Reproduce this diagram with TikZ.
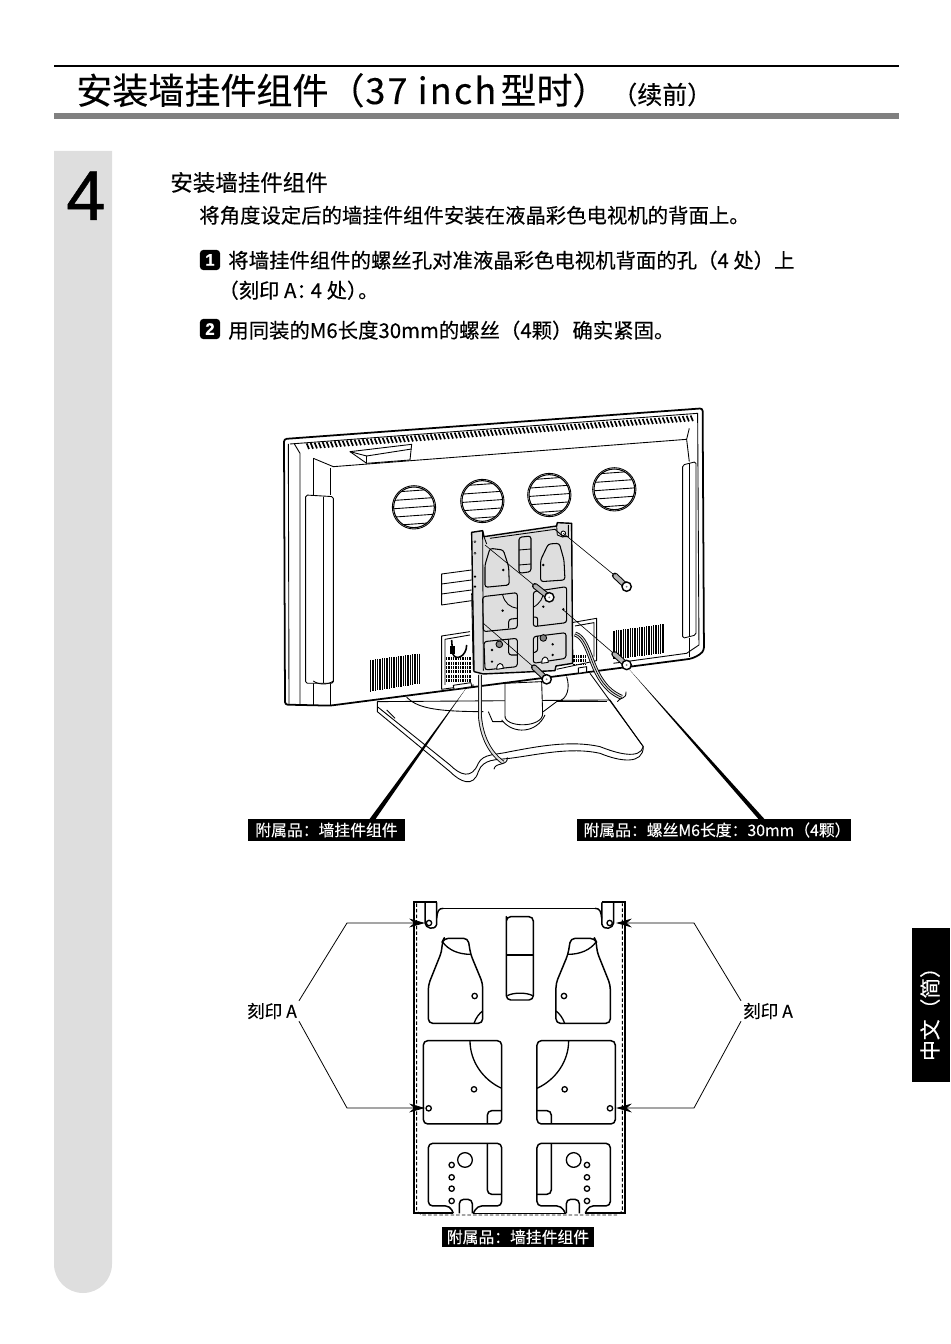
\documentclass[tikz,border=0pt]{standalone}
\usepackage{fontspec}
\setmainfont[FakeBold=0.25]{Noto Sans CJK SC}
\newfontfamily\digitfont[FakeBold=0.7]{Liberation Sans}
\usetikzlibrary{positioning,calc,arrows.meta}
\definecolor{sidegray}{HTML}{DEDEDE}
\definecolor{rulegray}{HTML}{808080}
\definecolor{platefill}{HTML}{DEDEDE}
\tikzset{
  bodytext/.style={anchor=base west,inner sep=0pt,font=\fontsize{11.6pt}{14pt}\selectfont},
  headtext/.style={anchor=base west,inner sep=0pt,font=\fontsize{20.5pt}{24pt}\selectfont},
  numbox/.style={fill=black,text=white,rounded corners=2pt,inner sep=0pt,minimum size=11.5pt,
    font=\digitfont\bfseries\fontsize{9.5pt}{10pt}\selectfont},
  tagbox/.style={fill=black,text=white,inner sep=0pt,minimum height=12pt,
    font=\fontsize{9pt}{10pt}\selectfont},
  marklabel/.style={inner sep=1pt,font=\fontsize{10pt}{11pt}\selectfont},
  tvline/.style={line width=0.5pt,line join=round},
  tvedge/.style={line width=1pt,line join=round,rounded corners=1.5pt},
  plateline/.style={line width=0.6pt,rounded corners=1.5pt},
  plan/.style={line width=0.85pt,rounded corners=2.5pt,line join=round},
  planhole/.style={line width=0.75pt},
  leader/.style={line width=0.45pt,-{Stealth[length=9pt,width=5pt]}},
  hairline/.style={line width=0.35pt},
  zoomed/.style={shift={#1},scale=0.3333}
}
\begin{document}
\begin{tikzpicture}[x=0.02cm,y=-0.02cm]
\useasboundingbox (0,0) rectangle (950,1344);
% page furniture
\fill[sidegray] (54,151) -- (112,151) [rounded corners=0.58cm] -- (112,1293) -- (54,1293) [sharp corners] -- cycle;
\fill (54,65) rectangle (899,67);
\fill[rulegray] (54,113) rectangle (899,119);
\fill (912,928) rectangle (950,1082);
\node[text=white,rotate=90,inner sep=0pt,font=\fontsize{11.8pt}{14pt}\selectfont] (sidetab) at (930,1009) {中文（简）};
% heading
\node[headtext] (title) at (76,104) {安装墙挂件组件（};
\node[headtext,font=\addfontfeature{LetterSpace=6}\fontsize{20.5pt}{24pt}\selectfont] (titleinch) at (365,104) {37 inch};
\node[headtext] (titletype) at (500,104) {型时）};
\node[anchor=base west,inner sep=0pt,font=\fontsize{14.2pt}{16pt}\selectfont] (titlemore) at (612,104) {（续前）};
\node[anchor=base west,inner sep=0pt,font=\digitfont\fontsize{40pt}{42pt}\selectfont] (stepno) at (66,220) {4};
\node[bodytext,font=\fontsize{12.8pt}{15pt}\selectfont] (stephead) at (170,191) {安装墙挂件组件};
\node[bodytext] (stepline) at (199,223) {将角度设定后的墙挂件组件安装在液晶彩色电视机的背面上。};
\node[numbox] (numa) at (210,260) {1};
\node[bodytext] (itema) at (228,268) {将墙挂件组件的螺丝孔对准液晶彩色电视机背面的孔（4 处）上};
\node[bodytext] (itemb) at (218,298) {（刻印 A：\kern-.3em 4 处）\kern-.45em。};
\node[numbox] (numb) at (210,329) {2};
\node[bodytext] (itemc) at (228,338) {用同装的M6长度30mm的螺丝（4颗）确实紧固。};

% television seen from behind, coordinates of the 3x crop
\begin{scope}[zoomed={(270,400)}]
  % stand
  \draw[tvline,fill=white] (322,905) -- (322,935) -- (540,1115) .. controls (570,1145) and (610,1165) .. (625,1115)
    .. controls (640,1075) and (680,1080) .. (720,1075) .. controls (800,1065) and (900,1040) .. (990,1060)
    .. controls (1050,1085) and (1120,1095) .. (1120,1040) -- (1020,900) -- cycle;
  \draw[tvline] (322,920) -- (540,1095) .. controls (570,1125) and (605,1140) .. (625,1090)
    .. controls (640,1060) and (680,1065) .. (720,1055) .. controls (800,1040) and (900,1020) .. (990,1040)
    .. controls (1040,1060) and (1110,1080) .. (1120,1040);
  \draw[tvline] (350,930) -- (375,955);
  \draw[tvline] (410,892) .. controls (440,920) and (480,935) .. (640,935);
  \draw[tvline] (860,905) -- (1010,905);
  \draw[tvline,fill=white] (705,850) -- (705,945) .. controls (700,985) and (820,985) .. (818,940) -- (815,845) -- cycle;
  \draw[tvline] (655,935) -- (668,965) -- (700,965);
  \draw[tvline] (695,960) .. controls (730,1005) and (800,1000) .. (825,945);
  \draw[tvline] (820,935) -- (860,905) .. controls (895,900) and (900,860) .. (890,830);
  \draw[tvline] (960,820) -- (1120,1040);
  % cabinet
  \draw[tvedge,fill=white] (42,117) -- (1298,25) -- (1302,750) .. controls (1290,765) and (1270,775) .. (1250,778) -- (180,917) -- (45,914) -- cycle;
  \draw[tvline] (60,132) -- (1283,40) -- (1287,735) -- (1250,760) -- (1030,790);
  \draw[tvline] (55,132) -- (57,912);
  \draw[tvline] (72,130) -- (90,160) -- (90,914);
  \draw[tvline] (130,175) -- (190,200) -- (1250,118) -- (1258,85);
  \draw[tvline] (130,175) -- (130,285);
  \draw[tvline] (180,203) -- (180,285);
  \draw[tvline] (1250,118) -- (1258,185);
  \draw[tvline] (130,850) -- (130,915);
  \draw[tvline] (180,850) -- (180,915);
  \draw[tvline] (1258,715) -- (1258,770);
  % slots along the top edge
  \foreach \xv in {110,122,...,1270} {
    \draw[line width=0.95pt] (\xv,{130-(\xv-110)*0.0725}) -- ++(7,17);
  }
  % lugs
  \draw[tvline,fill=white] (240,155) -- (425,133) -- (420,180) -- (290,190) -- cycle;
  \draw[tvline] (240,155) -- (290,168) -- (425,147);
  \draw[tvline] (290,168) -- (290,190);
  \draw[tvline,fill=white,rounded corners=1pt] (107,285) -- (190,290) -- (190,850) -- (107,850) -- cycle;
  \draw[tvline] (160,290) -- (160,850);
  \draw[tvline] (130,843) .. controls (145,855) and (175,855) .. (190,843);
  \draw[tvline,fill=white,rounded corners=1pt] (1238,195) -- (1278,185) -- (1278,705) -- (1238,715) -- cycle;
  \draw[tvline] (1258,190) -- (1258,710);
  % speaker grilles
  \foreach \cx/\cy in {432/322,637/303,838/285,1033/268} {
    \begin{scope}
      \clip (\cx,\cy) circle (61);
      \foreach \kk in {-50,-25,...,50} {
        \draw[tvline] (\cx-70,\cy+\kk+5) -- (\cx+70,\cy+\kk-5);
      }
    \end{scope}
    \draw[line width=0.6pt] (\cx,\cy) circle (61);
    \draw[tvline] (\cx,\cy) circle (65);
  }
  % vents
  \foreach \xv in {302,309,...,455} {
    \draw[line width=0.7pt] (\xv,{780-(\xv-300)*0.13}) -- (\xv,{875-(\xv-300)*0.16});
  }
  \foreach \xv in {1032,1039,...,1180} {
    \draw[line width=0.7pt] (\xv,{692-(\xv-1030)*0.13}) -- (\xv,{778-(\xv-1030)*0.12});
  }
  % label behind the plate
  \draw[tvline] (605,510) -- (515,522) -- (515,615) -- (605,602);
  \draw[tvline] (515,552) -- (605,540);
  \draw[tvline] (515,582) -- (605,570);
  % connector wells
  \draw[tvline,fill=white] (600,695) -- (515,708) -- (515,868) -- (612,855);
  \draw[tvline] (600,705) -- (525,718) -- (525,855);
  \draw[tvline,fill=white] (905,668) -- (980,655) -- (980,782) -- (860,808);
  \draw[tvline] (915,678) -- (972,668) -- (972,770);
  \foreach \xv in {530,537,...,604} {
    \draw[line width=0.8pt,dash pattern=on 1.6pt off 0.9pt] (\xv,772) -- (\xv,845);
  }
  \foreach \xv in {912,919,...,950} {
    \draw[line width=0.8pt,dash pattern=on 1.6pt off 0.9pt] (\xv,765) -- (\xv,795);
  }
  \draw[line width=0.9pt] (545,720) -- (548,760) .. controls (555,785) and (590,770) .. (590,735);
  \fill (540,738) rectangle (556,762);
  \draw[tvline,fill=white] (550,856) -- (552,868) -- (605,860) -- (603,848) -- cycle;
  \draw[tvline,fill=white] (925,804) -- (925,820) -- (950,816) -- (950,800) -- cycle;
  % cables
  \draw[line width=2.2pt] (630,825) -- (630,950) .. controls (635,1010) and (660,1060) .. (700,1088);
  \draw[line width=1.2pt,platefill] (630,825) -- (630,950) .. controls (635,1010) and (660,1060) .. (700,1088);
  \draw[tvline] (672,1108) .. controls (675,1085) and (715,1100) .. (712,1072);
  \draw[line width=2.8pt] (915,702) .. controls (970,720) and (955,850) .. (1055,892);
  \draw[line width=1.8pt,platefill] (915,702) .. controls (970,720) and (955,850) .. (1055,892);
  \draw[line width=0.4pt] (915,702) .. controls (970,720) and (955,850) .. (1055,892);
  \draw[tvline] (1042,905) .. controls (1050,890) and (1070,900) .. (1068,875);
  % wall plate
  \draw[line width=0.8pt,fill=platefill,line join=round] (605,397) -- (638,392) -- (642,410) -- (860,378) -- (862,368) -- (905,370) -- (908,790) -- (858,798) -- (855,812) -- (640,822) -- (612,815) -- cycle;
  \draw[tvline] (638,395) -- (640,812);
  \draw[tvline] (605,580) -- (610,812);
  \draw[tvline] (660,415) -- (855,388) -- (880,410) -- (895,410) -- (895,375);
  \draw[tvline] (860,378) -- (862,405) -- (880,412);
  \draw[tvline] (642,410) -- (650,432);
  \foreach \yv in {425,460,530,560} {
    \fill (615,\yv) circle (4);
  }
  \foreach \yv in {425,460} {
    \fill[white] (615,\yv) circle (1.5);
  }
  \draw[plateline] (660,445) -- (700,450) -- (716,500) -- (718,555) -- (645,562) -- (645,495) -- cycle;
  \draw[plateline] (835,432) -- (868,430) -- (882,480) -- (885,540) -- (812,545) -- (812,480) -- cycle;
  \draw[plateline] (747,412) -- (783,408) -- (783,515) -- (747,520) -- cycle;
  \draw[tvline] (747,450) -- (783,447);
  \draw[tvline] (747,495) -- (783,492);
  \draw[plateline] (638,590) -- (742,578) -- (742,685) -- (640,695) -- cycle;
  \draw[tvline] (698,585) .. controls (705,610) and (720,622) .. (742,625);
  \draw[plateline] (716,685) -- (716,658) -- (742,655);
  \draw[plateline] (790,575) -- (890,560) -- (890,668) -- (790,680) -- cycle;
  \draw[tvline] (822,570) .. controls (820,595) and (810,610) .. (790,622);
  \draw[plateline] (790,652) -- (803,650) -- (803,678);
  \draw[plateline] (642,725) -- (742,715) -- (742,800) -- (645,810) -- cycle;
  \draw[plateline] (716,718) -- (716,765) -- (742,765);
  \draw[plateline] (790,710) -- (888,698) -- (888,775) -- (790,790) -- cycle;
  \draw[plateline] (803,708) -- (803,755) -- (790,758);
  \foreach \dx/\dy in {700/510,820/495,698/632,820/620,880/628,666/750,666/785,848/733,848/765} {
    \fill (\dx,\dy) circle (4);
  }
  \draw[tvline,fill=rulegray] (688,733) circle (10);
  \draw[tvline,fill=rulegray] (820,714) circle (10);
  \draw[tvline,fill=white] (680,808) .. controls (680,785) and (700,785) .. (700,805) -- cycle;
  \draw[tvline,fill=white] (815,790) .. controls (815,765) and (835,765) .. (835,787) -- cycle;
  \fill[white] (880,400) circle (6);
  \draw[tvline] (880,400) circle (7);
  % fixing screws and their axes
  \foreach \hx/\hy/\sx/\sy/\ox/\oy in {880/400/1070/560/1035/527,645/435/838/592/795/558,640/670/830/838/792/802,880/630/1070/795/1033/762} {
    \draw[hairline] (\hx,\hy) -- (\ox,\oy);
    \draw[line width=3.4pt,line cap=round] (\ox,\oy) -- (\sx,\sy);
    \draw[line width=2.2pt,line cap=round,rulegray!60] (\ox,\oy) -- (\sx,\sy);
    \draw[line width=0.8pt,fill=white] (\sx,\sy) circle (14);
    \fill[rulegray] (\sx,\sy) circle (3);
  }
\end{scope}

% plate on its own, coordinates of the 3x crop
\begin{scope}[zoomed={(400,895)}]
  \draw[line width=1pt] (110,22) -- (42,22) -- (42,955) -- (160,955);
  \draw[line width=1pt] (606,22) -- (675,22) -- (675,955) -- (555,955);
  \draw[line width=0.5pt] (220,955) -- (497,955);
  \draw[line width=0.5pt,dashed,dash pattern=on 2pt off 1.2pt] (50,25) -- (50,948) -- (65,960) -- (652,960) -- (667,948) -- (667,25);
  \draw[plan] (120,40) -- (595,40);
  \draw[line width=0.8pt] (110,70) .. controls (112,50) and (115,40) .. (130,40);
  \draw[line width=0.8pt] (605,70) .. controls (603,50) and (600,40) .. (585,40);
  \draw[plan] (319,78) -- (319,65) -- (400,65) -- (400,315) -- (319,315) -- cycle;
  \draw[planhole] (319,180) -- (400,180);
  \draw[planhole] (322,302) .. controls (340,292) and (380,292) .. (398,302);
  \foreach \mm in {1,-1} {
    \begin{scope}[shift={(358,0)},xscale=\mm,shift={(-358,0)}]
      % lug
      \draw[line width=0.85pt] (75,22) -- (75,84) .. controls (76,100) and (105,108) .. (110,88) -- (110,22);
      \draw[planhole] (87,84) circle (8);
      % bottle opening
      \draw[plan] (127,140) -- (132,130) -- (204,130) -- (212,178) -- (248,265) -- (248,385) -- (85,385) -- (85,270) -- (125,170) -- cycle;
      \draw[planhole] (127,140) .. controls (145,165) and (175,178) .. (212,178);
      \draw[planhole] (222,385) .. controls (228,368) and (238,355) .. (248,348);
      \draw[planhole] (224,303) circle (8);
      % square opening
      \draw[plan] (70,437) -- (305,437) -- (305,687) -- (70,687) -- cycle;
      \draw[planhole] (210,437) .. controls (210,500) and (250,555) .. (305,580);
      \draw[plan] (262,687) -- (262,647) -- (305,647);
      \draw[planhole] (222,583) circle (8);
      \draw[planhole] (86,640) circle (8);
      % lower opening
      \draw[plan] (160,955) -- (150,933) -- (85,933) -- (85,745) -- (305,745) -- (305,933) -- (232,933) -- (220,955);
      \draw[plan] (178,955) -- (178,913) -- (217,913) -- (217,955);
      \draw[plan] (262,745) -- (262,898) -- (305,898);
      \draw[planhole] (195,795) circle (22);
      \foreach \yv in {810,847,881,918} {
        \draw[planhole] (155,\yv) circle (8);
      }
    \end{scope}
  }
\end{scope}

% tags and leaders
\node[tagbox,minimum width=89.5pt] (tagplate) at (326.5,830) {附属品：墙挂件组件};
\node[tagbox,minimum width=155.5pt] (tagscrew) at (713.5,830) {\hspace*{4pt}附属品：螺丝M6长度：30mm（4颗）};
\node[tagbox,minimum width=86.5pt,minimum height=11.4pt] (tagplan) at (518,1237) {附属品：墙挂件组件};
\coordinate (platetip) at (467,687);
\coordinate (screwtip) at (628,668);
\fill (platetip) -- ($(tagplate.north)+(43,0)$) -- ($(tagplate.north)+(49,0)$) -- cycle;
\fill (screwtip) -- ($(tagscrew.north)+(45,0)$) -- ($(tagscrew.north)+(51,0)$) -- cycle;
\node[marklabel] (markleft) at (272,1011) {刻印 A};
\node[marklabel] (markright) at (768,1011) {刻印 A};
\coordinate (lugleft) at (425,923);
\coordinate (holeleft) at (425,1108);
\coordinate (lugright) at (616,923);
\coordinate (holeright) at (616,1108);
\draw[leader] (markleft.north east) -- (347,923) -- (lugleft);
\draw[leader] (markleft.south east) -- (347,1108) -- (holeleft);
\draw[leader] (markright.north west) -- (694,923) -- (lugright);
\draw[leader] (markright.south west) -- (694,1108) -- (holeright);
\end{tikzpicture}
\end{document}
